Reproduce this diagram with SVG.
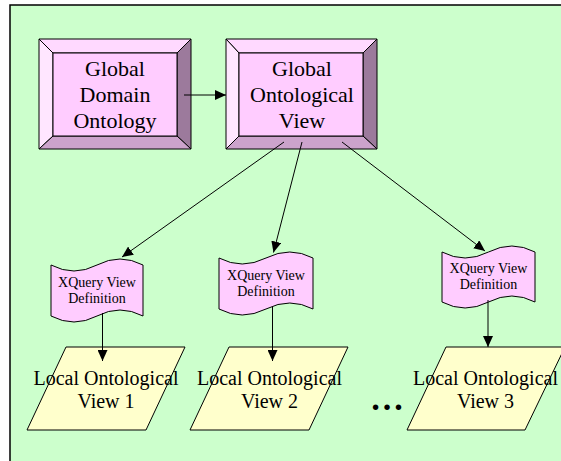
<svg xmlns="http://www.w3.org/2000/svg" width="561" height="461" viewBox="0 0 561 461">
<defs>
<marker id="ah" markerUnits="userSpaceOnUse" markerWidth="12" markerHeight="10" refX="11" refY="5" orient="auto">
<path d="M0,0 L11,5 L0,10 Z" fill="#000"/>
</marker>
<style>
.bg{fill:#CCFFCC;stroke:#000;stroke-width:1.5}
.face{fill:#FFCCFF;stroke:#000;stroke-width:1}
.bt{fill:#FFD9FF;stroke:#000;stroke-width:1}
.bl{fill:#FFE6FF;stroke:#000;stroke-width:1}
.bb{fill:#CCA3CC;stroke:#000;stroke-width:1}
.br{fill:#9C7A9C;stroke:#000;stroke-width:1}
.doc{fill:#FFCCFF;stroke:#000;stroke-width:1}
.para{fill:#FFFFCC;stroke:#000;stroke-width:1}
text{font-family:'Liberation Serif',serif;fill:#000;text-anchor:middle}
.big{font-size:22px}
.mid{font-size:20px}
.sm{font-size:14px}
.conn line{stroke:#000;stroke-width:1;marker-end:url(#ah)}
</style>
</defs>
<rect class="bg" x="10" y="5" width="570" height="480"/>

<g id="global-domain-ontology">
<polygon class="bt" points="39,39 191,39 177,53 53,53"/>
<polygon class="bl" points="39,39 53,53 53,136 39,149"/>
<polygon class="br" points="191,39 191,149 177,136 177,53"/>
<polygon class="bb" points="39,149 53,136 177,136 191,149"/>
<rect class="face" x="53" y="53" width="124" height="83"/>
<text class="big" x="115" y="76">Global</text>
<text class="big" x="115" y="102">Domain</text>
<text class="big" x="115" y="128">Ontology</text>
</g>

<g id="global-ontological-view">
<polygon class="bt" points="226,39 377,39 363,53 239,53"/>
<polygon class="bl" points="226,39 239,53 239,136 226,149"/>
<polygon class="br" points="377,39 377,149 363,136 363,53"/>
<polygon class="bb" points="226,149 239,136 363,136 377,149"/>
<rect class="face" x="239" y="53" width="124" height="83"/>
<text class="big" x="302" y="76">Global</text>
<text class="big" x="302" y="102">Ontological</text>
<text class="big" x="302" y="128">View</text>
</g>

<g id="xquery-1">
<path class="doc" d="M51,265 Q74,277 97,265 Q120,253 143,265 L143,316 Q120,304 97,316 Q74,328 51,316 Z"/>
<text class="sm" x="97" y="287">XQuery View</text>
<text class="sm" x="97" y="303">Definition</text>
</g>

<g id="xquery-2">
<path class="doc" d="M219,258 Q242,270 266,258 Q290,246 313,258 L313,309 Q290,297 266,309 Q242,321 219,309 Z"/>
<text class="sm" x="266" y="280">XQuery View</text>
<text class="sm" x="266" y="296">Definition</text>
</g>

<g id="xquery-3">
<path class="doc" d="M442,252 Q465,264 488.5,252 Q512,240 535,252 L535,302 Q512,290 488.5,302 Q465,314 442,302 Z"/>
<text class="sm" x="488.5" y="273">XQuery View</text>
<text class="sm" x="488.5" y="289">Definition</text>
</g>

<g id="local-1">
<polygon class="para" points="66,347 185,347 146,430 27,430"/>
<text class="mid" x="106" y="385">Local Ontological</text>
<text class="mid" x="106" y="408">View 1</text>
</g>

<g id="local-2">
<polygon class="para" points="229,347 348,347 309,430 190,430"/>
<text class="mid" x="269.5" y="385">Local Ontological</text>
<text class="mid" x="269.5" y="408">View 2</text>
</g>

<g id="local-3">
<polygon class="para" points="446,347 565,347 525,430 407,430"/>
<text class="mid" x="485.5" y="385">Local Ontological</text>
<text class="mid" x="485.5" y="408">View 3</text>
</g>

<text x="387" y="410" font-size="34" font-weight="bold">…</text>

<g id="connectors" class="conn">
<line x1="184" y1="95" x2="226" y2="95"/>
<line x1="284" y1="142" x2="122" y2="257"/>
<line x1="302" y1="142" x2="273.5" y2="252.5"/>
<line x1="342" y1="142" x2="485" y2="251"/>
<line x1="102.5" y1="313" x2="102.5" y2="361"/>
<line x1="272.5" y1="307" x2="272.5" y2="361"/>
<line x1="488" y1="300" x2="488" y2="347"/>
</g>
</svg>
